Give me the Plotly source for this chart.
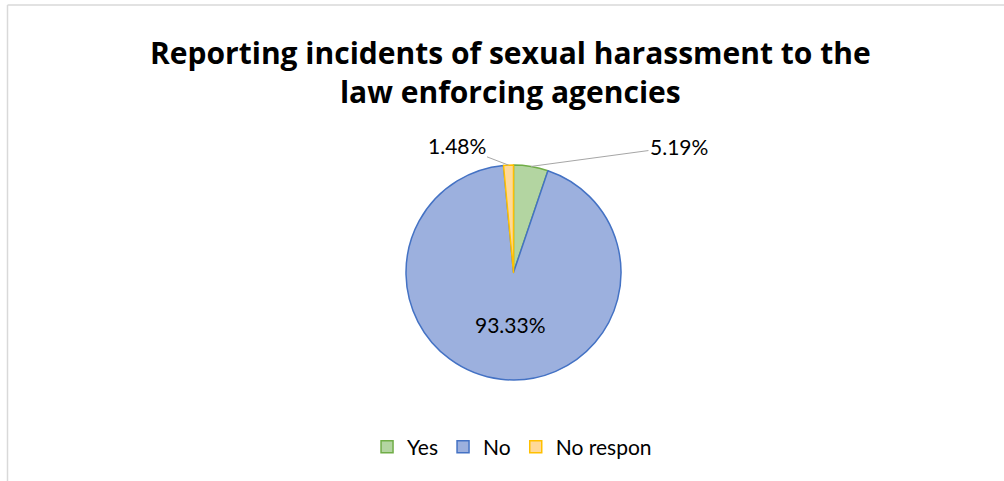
import math
import plotly.graph_objects as go

# Survey responses: reporting incidents to law enforcing agencies
categories = ["Yes", "No", "No respon"]
shares = [5.19, 93.33, 1.48]
fill_colors = ["#b3d5a1", "#9cb0de", "#ffd999"]
line_colors = ["#70ad47", "#4472c4", "#ffc000"]

W, H = 1004, 481
FONT = "Lato"
TITLE_FONT = "Open Sans"

# pie placement in paper coordinates
dom_x = [406 / W, 621 / W]
dom_y = [1 - 380 / H, 1 - 165 / H]

fig = go.Figure()
fig.add_trace(go.Pie(
    labels=categories,
    values=shares,
    sort=False,
    direction="clockwise",
    rotation=0,
    textinfo="none",
    hoverinfo="label+value",
    marker=dict(colors=fill_colors, line=dict(color=line_colors, width=1.5)),
    domain=dict(x=dom_x, y=dom_y),
    showlegend=True,
))

# geometry of the pie to anchor the value labels
cx_px = (dom_x[0] + dom_x[1]) / 2 * W
cy_px = (1 - (dom_y[0] + dom_y[1]) / 2) * H
radius = min((dom_x[1] - dom_x[0]) * W, (dom_y[1] - dom_y[0]) * H) / 2
total = sum(shares)

def slice_point(idx, frac_r):
    start = sum(shares[:idx]) / total * 360
    mid = start + shares[idx] / total * 180
    a = math.radians(mid)
    x = cx_px + frac_r * radius * math.sin(a)
    y = cy_px - frac_r * radius * math.cos(a)
    return x / W, 1 - y / H

label_font = dict(family=FONT, size=21, color="#000000")
annotations = []

# small slices: labels outside with leader lines (text offsets in px)
offsets = {0: (148, -20), 2: (-52, -20)}
for idx, (ax, ay) in offsets.items():
    px, py = slice_point(idx, 1.0)
    annotations.append(dict(
        x=px, y=py, xref="paper", yref="paper",
        ax=ax, ay=ay, text=f"{shares[idx]:.2f}%",
        showarrow=True, arrowhead=0, arrowwidth=1, arrowcolor="#a6a6a6",
        font=label_font, standoff=0, startstandoff=0,
    ))

# large slice: label inside
px, py = slice_point(1, 0.62)
annotations.append(dict(
    x=px + 5 / W, y=py, xref="paper", yref="paper", showarrow=False,
    text=f"{shares[1]:.2f}%", font=label_font,
))

# chart title, two centred lines
annotations.append(dict(
    x=0.508, y=1 - 30 / H, xref="paper", yref="paper",
    xanchor="center", yanchor="top", showarrow=False, align="center",
    text="<b>Reporting incidents of sexual harassment to the<br>law enforcing agencies</b>",
    font=dict(family=TITLE_FONT, size=30, color="#000000"),
))

fig.update_layout(
    width=W, height=H,
    margin=dict(l=0, r=0, t=0, b=0),
    paper_bgcolor="white",
    plot_bgcolor="white",
    legend=dict(
        orientation="h", x=0.51, xanchor="center", y=0.028, yanchor="bottom",
        font=dict(family=FONT, size=21, color="#000000"),
        itemwidth=30, traceorder="normal",
    ),
    annotations=annotations,
    shapes=[
        dict(type="line", xref="paper", yref="paper",
             x0=7.5 / W, x1=1.0, y0=1 - 5 / H, y1=1 - 5 / H,
             line=dict(color="#d9d9d9", width=1.5)),
        dict(type="line", xref="paper", yref="paper",
             x0=7.5 / W, x1=7.5 / W, y0=0, y1=1 - 5 / H,
             line=dict(color="#d9d9d9", width=1.5)),
    ],
)

fig.write_html("out.html")
